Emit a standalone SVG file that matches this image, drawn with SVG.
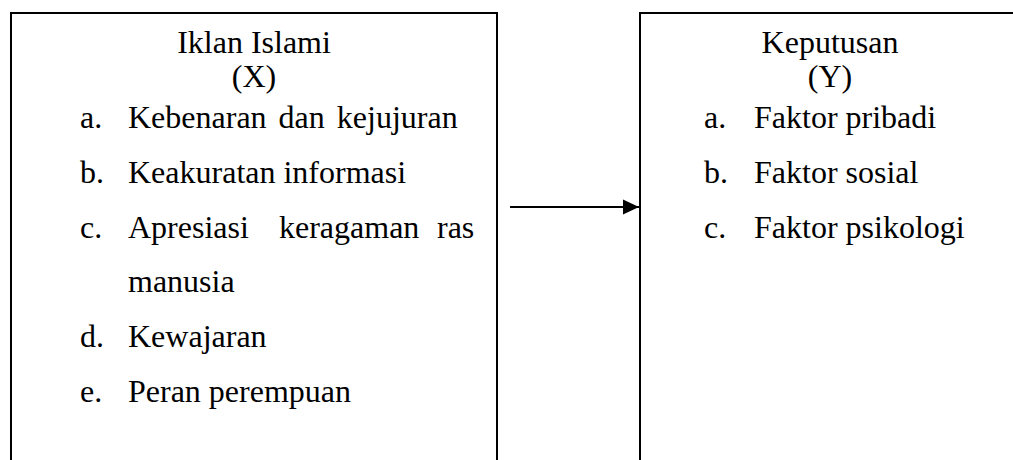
<svg xmlns="http://www.w3.org/2000/svg" width="1013" height="460" viewBox="0 0 1013 460">
<defs>
<style>
.box{fill:#fff;stroke:#000;stroke-width:2}
.t{font-family:"Liberation Serif","Times New Roman",serif;font-size:32px;fill:#000}
.c{text-anchor:middle}
.edge{stroke:#000;stroke-width:2;fill:none}
</style>
<marker id="ah" markerWidth="17" markerHeight="16" refX="16" refY="8" orient="auto" markerUnits="userSpaceOnUse">
<path d="M0,0.5 L16,8 L0,15.5 Z" fill="#000"/>
</marker>
</defs>
<rect width="1013" height="460" fill="#fff"/>
<g id="node-x">
<path class="box" d="M11,470 V13 H497 V470"/>
<text class="t c" x="254" y="53">Iklan Islami</text>
<text class="t c" x="254" y="87">(X)</text>
<text class="t" x="80" y="128">a.</text><text class="t" x="128" y="128" word-spacing="4">Kebenaran dan kejujuran</text>
<text class="t" x="80" y="183">b.</text><text class="t" x="128" y="183">Keakuratan informasi</text>
<text class="t" x="80" y="238">c.</text><text class="t" x="128" y="238">Apresiasi</text><text class="t" x="279" y="238">keragaman</text><text class="t" x="437" y="238">ras</text>
<text class="t" x="128" y="292">manusia</text>
<text class="t" x="80" y="347">d.</text><text class="t" x="128" y="347">Kewajaran</text>
<text class="t" x="80" y="402">e.</text><text class="t" x="128" y="402">Peran perempuan</text>
</g>
<g id="node-y">
<path class="box" d="M640,470 V13 H1020 V470"/>
<text class="t c" x="830" y="53">Keputusan</text>
<text class="t c" x="830" y="87">(Y)</text>
<text class="t" x="704" y="128">a.</text><text class="t" x="754" y="128">Faktor pribadi</text>
<text class="t" x="704" y="183">b.</text><text class="t" x="754" y="183">Faktor sosial</text>
<text class="t" x="704" y="238">c.</text><text class="t" x="754" y="238">Faktor psikologi</text>
</g>
<g id="connectors">
<line class="edge" x1="510" y1="207" x2="639" y2="207" marker-end="url(#ah)"/>
</g>
</svg>
